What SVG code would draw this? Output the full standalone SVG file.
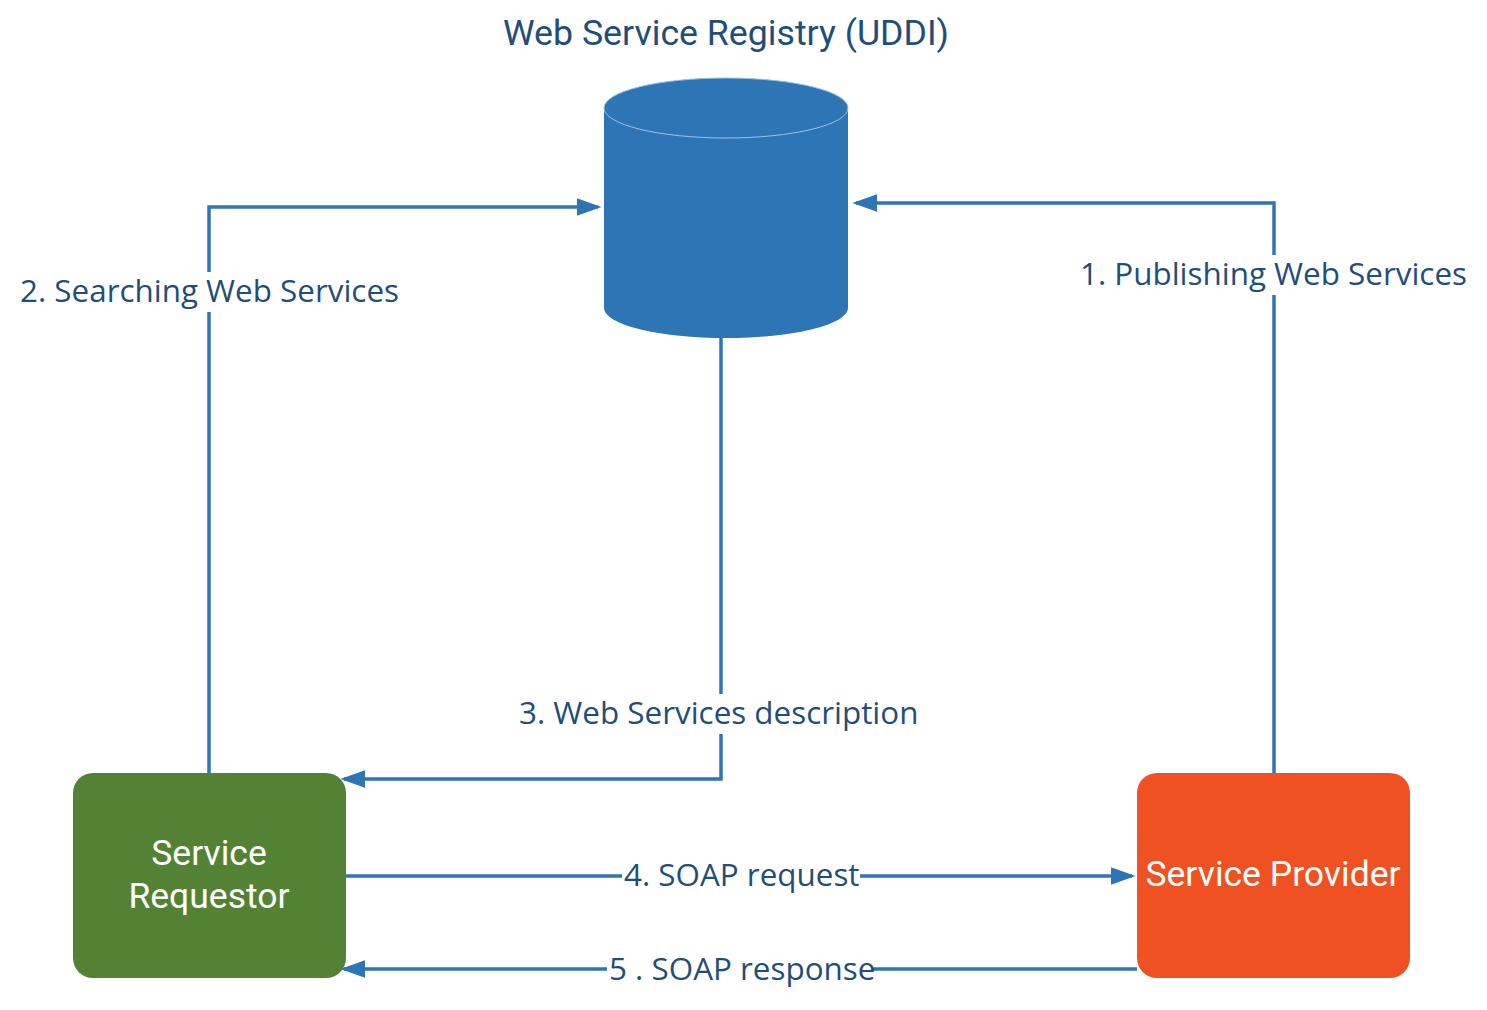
<svg xmlns="http://www.w3.org/2000/svg" width="1487" height="1010" viewBox="0 0 1487 1010">
<style>
.c{fill:none;stroke:#2E75B6;stroke-width:3.5}
.l{font-family:"Open Sans","Liberation Sans",sans-serif;font-size:31.4px;fill:#1F4E79}
.n{font-family:Roboto,"Liberation Sans",sans-serif;font-size:35.5px;fill:#fff;text-anchor:middle}
</style>
<defs>
<marker id="a" markerWidth="7" markerHeight="5" refX="6" refY="2.5" orient="auto" markerUnits="strokeWidth"><path d="M0,0L7,2.5L0,5z" fill="#2E75B6"/></marker>
</defs>
<rect width="1487" height="1010" fill="#fff"/>
<g id="registry">
<text x="726" y="45" text-anchor="middle" font-family="Roboto,'Liberation Sans',sans-serif" font-size="35.7" fill="#1F4E79">Web Service Registry (UDDI)</text>
<path d="M604,108 L604,308 A122,30 0 0 0 848,308 L848,108 A122,30 0 0 0 604,108z" fill="#2E75B6"/>
<ellipse cx="726" cy="108" rx="122" ry="30" fill="#2E75B6" stroke="#9DC3E6" stroke-width="1"/>
</g>
<g id="requestor">
<rect x="73" y="773" width="273" height="205" rx="20" fill="#548235"/>
<text class="n" x="209" y="865">Service</text>
<text class="n" x="209" y="908">Requestor</text>
</g>
<g id="provider">
<rect x="1137" y="773" width="273" height="205" rx="20" fill="#F05122"/>
<text class="n" x="1273" y="886">Service Provider</text>
</g>
<g id="connectors">
<path class="c" d="M1274,773V203H856" marker-end="url(#a)"/>
<path class="c" d="M209,773V207H598" marker-end="url(#a)"/>
<path class="c" d="M721,338V779H344" marker-end="url(#a)"/>
<path class="c" d="M346,876H1132" marker-end="url(#a)"/>
<path class="c" d="M1137,969H344" marker-end="url(#a)"/>
<rect x="1078" y="255" width="390" height="40" fill="#fff"/>
<text class="l" x="1080" y="285">1. Publishing Web Services</text>
<rect x="18" y="272" width="384" height="40" fill="#fff"/>
<text class="l" x="20" y="302">2. Searching Web Services</text>
<rect x="517" y="694" width="406" height="40" fill="#fff"/>
<text class="l" x="519" y="724">3. Web Services description</text>
<rect x="622" y="856" width="238" height="40" fill="#fff"/>
<text class="l" x="624" y="886">4. SOAP request</text>
<rect x="607" y="950" width="266" height="40" fill="#fff"/>
<text class="l" x="609" y="980">5 . SOAP response</text>
</g>
</svg>
